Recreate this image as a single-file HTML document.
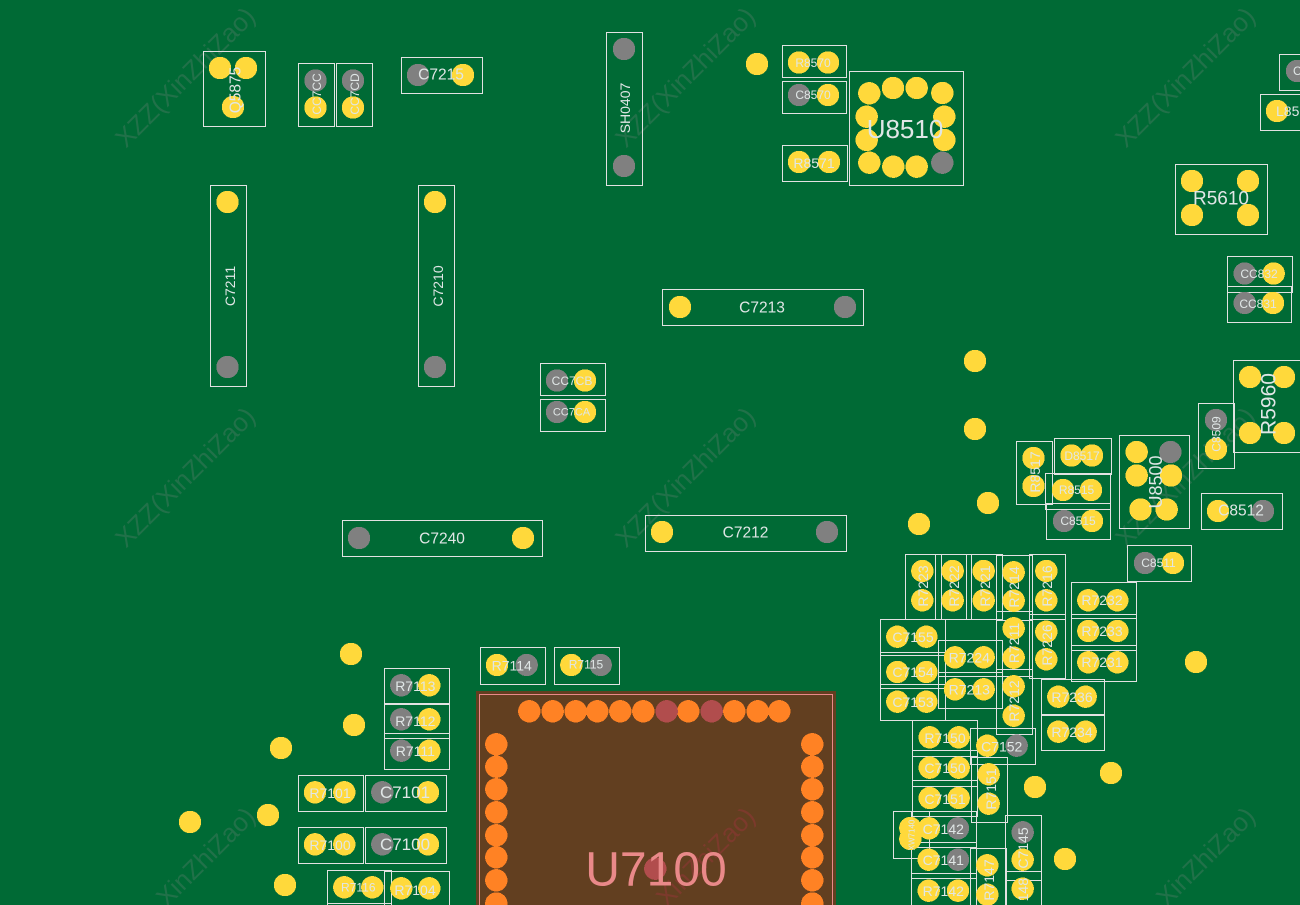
<!DOCTYPE html>
<html><head><meta charset="utf-8"><title>U7100 board view</title>
<style>
html,body{margin:0;padding:0;background:#006a35;width:1300px;height:905px;overflow:hidden}
svg{display:block}
.b{fill:none;stroke:#e2e2e2;stroke-width:1;shape-rendering:crispEdges}
circle,path{shape-rendering:crispEdges}
.y{fill:#ffd93b}.g{fill:#808080}.o{fill:#ff8224}.d{fill:#b14d4d}
text{font-family:"Liberation Sans",sans-serif;fill:#e0e6e6;text-anchor:middle;dominant-baseline:central}
.w{font-size:26px;fill:#8c8c8c;fill-opacity:.24}
.wb{font-size:26px;fill:#7c3a2c}
.s8{font-size:8px}.s11{font-size:11px}.s12{font-size:12px}.s13{font-size:14px}.s14{font-size:14px}.s15{font-size:15.5px}.s17{font-size:17px}.s18{font-size:18px}.s19{font-size:19px}.s21{font-size:21px}.s26{font-size:26px}
.u{font-size:48px;fill:#e98989}
</style></head><body>
<svg width="1300" height="905" viewBox="0 0 1300 905" xmlns="http://www.w3.org/2000/svg">
<rect width="1300" height="905" fill="#006a35"/>
<rect x="476" y="691" width="360" height="214" fill="#623f20"/>
<path class="b" d="M479.5 905V694.5H832.5V905" stroke="#e98989" style="stroke:#e98989"/>

<!-- watermarks -->
<text class="w" transform="translate(185 77) rotate(-45)">XZZ(XinZhiZao)</text>
<text class="w" transform="translate(685 77) rotate(-45)">XZZ(XinZhiZao)</text>
<text class="w" transform="translate(1185 77) rotate(-45)">XZZ(XinZhiZao)</text>
<text class="w" transform="translate(185 477) rotate(-45)">XZZ(XinZhiZao)</text>
<text class="w" transform="translate(685 477) rotate(-45)">XZZ(XinZhiZao)</text>
<text class="w" transform="translate(1185 477) rotate(-45)">XZZ(XinZhiZao)</text>
<text class="w" style="text-anchor:end" transform="translate(250.4 811.6) rotate(-45)">XinZhiZao)</text>
<text class="wb" style="text-anchor:end" transform="translate(750.4 811.6) rotate(-45)">XinZhiZao)</text>
<text class="w" style="text-anchor:end" transform="translate(1250.4 811.6) rotate(-45)">XinZhiZao)</text>

<!-- stray dots -->
<g class="y">
<circle cx="757" cy="64" r="11.2"/><circle cx="975" cy="361" r="11.2"/><circle cx="975" cy="429" r="11.2"/><circle cx="988" cy="503" r="11.2"/><circle cx="919" cy="524" r="11.2"/><circle cx="1196" cy="662" r="11.2"/><circle cx="1111" cy="773" r="11.2"/><circle cx="1035" cy="787" r="11.2"/><circle cx="1065" cy="859" r="11.2"/><circle cx="351" cy="654" r="11.2"/><circle cx="354" cy="725" r="11.2"/><circle cx="281" cy="748" r="11.2"/><circle cx="268" cy="815" r="11.2"/><circle cx="190" cy="822" r="11.2"/><circle cx="285" cy="885" r="11.2"/>
</g>

<!-- boxes -->
<rect class="b" x="203.5" y="51.5" width="62" height="75"/>
<rect class="b" x="298.5" y="63.5" width="36" height="63"/>
<rect class="b" x="336.5" y="63.5" width="36" height="63"/>
<rect class="b" x="401.5" y="57.5" width="81" height="36"/>
<rect class="b" x="606.5" y="32.5" width="36" height="153"/>
<rect class="b" x="210.5" y="185.5" width="36" height="201"/>
<rect class="b" x="418.5" y="185.5" width="36" height="201"/>
<rect class="b" x="662.5" y="289.5" width="201" height="36"/>
<rect class="b" x="645.5" y="515.5" width="201" height="36"/>
<rect class="b" x="342.5" y="520.5" width="200" height="36"/>
<rect class="b" x="540.5" y="363.5" width="65" height="32"/>
<rect class="b" x="540.5" y="399.5" width="65" height="32"/>
<rect class="b" x="782.5" y="45.5" width="64" height="32"/>
<rect class="b" x="782.5" y="81.5" width="64" height="32"/>
<rect class="b" x="782.5" y="145.5" width="65" height="36"/>
<rect class="b" x="849.5" y="71.5" width="114" height="114"/>
<path class="b" d="M1300 54.5H1279.5V90.5H1300"/>
<path class="b" d="M1300 94.5H1260.5V130.5H1300"/>
<rect class="b" x="1175.5" y="164.5" width="92" height="70"/>
<rect class="b" x="1227.5" y="256.5" width="65" height="36"/>
<rect class="b" x="1227.5" y="286.5" width="64" height="36"/>
<path class="b" d="M1300 360.5H1233.5V452.5H1300"/>
<rect class="b" x="1198.5" y="403.5" width="36" height="65"/>
<rect class="b" x="1119.5" y="435.5" width="70" height="93"/>
<rect class="b" x="1016.5" y="441.5" width="36" height="63"/>
<rect class="b" x="1054.5" y="438.5" width="57" height="36"/>
<rect class="b" x="1045.5" y="473.5" width="65" height="36"/>
<rect class="b" x="1046.5" y="503.5" width="64" height="36"/>
<rect class="b" x="1127.5" y="545.5" width="64" height="36"/>
<rect class="b" x="1201.5" y="493.5" width="81" height="36"/>

<rect class="b" x="905.5" y="554.5" width="36" height="65"/>
<rect class="b" x="935.5" y="554.5" width="36" height="65"/>
<rect class="b" x="966.5" y="554.5" width="36" height="65"/>
<rect class="b" x="996.5" y="555.5" width="36" height="65"/>
<rect class="b" x="996.5" y="611.5" width="36" height="65"/>
<rect class="b" x="996.5" y="669.5" width="36" height="65"/>
<rect class="b" x="1029.5" y="554.5" width="36" height="65"/>
<rect class="b" x="1029.5" y="614.5" width="36" height="64"/>
<rect class="b" x="880.5" y="619.5" width="65" height="36"/>
<rect class="b" x="880.5" y="652.5" width="65" height="36"/>
<rect class="b" x="880.5" y="684.5" width="65" height="36"/>
<rect class="b" x="938.5" y="640.5" width="64" height="36"/>
<rect class="b" x="938.5" y="672.5" width="64" height="36"/>
<rect class="b" x="1071.5" y="582.5" width="65" height="36"/>
<rect class="b" x="1071.5" y="614.5" width="65" height="36"/>
<rect class="b" x="1071.5" y="645.5" width="65" height="36"/>
<rect class="b" x="1041.5" y="679.5" width="63" height="35"/>
<rect class="b" x="1041.5" y="715.5" width="63" height="35"/>

<rect class="b" x="912.5" y="720.5" width="65" height="36"/>
<rect class="b" x="912.5" y="750.5" width="65" height="36"/>
<rect class="b" x="912.5" y="780.5" width="65" height="36"/>
<rect class="b" x="970.5" y="728.5" width="65" height="36"/>
<rect class="b" x="971.5" y="757.5" width="36" height="65"/>
<rect class="b" x="893.5" y="811.5" width="36" height="47"/>
<rect class="b" x="911.5" y="811.5" width="65" height="36"/>
<rect class="b" x="911.5" y="842.5" width="65" height="36"/>
<path class="b" d="M911.5 905V873.5H976.5V905"/>
<path class="b" d="M970.5 905V848.5H1006.5V905"/>
<rect class="b" x="1005.5" y="815.5" width="36" height="65"/>
<path class="b" d="M1005.5 905V871.5H1041.5V905"/>

<rect class="b" x="480.5" y="647.5" width="65" height="37"/>
<rect class="b" x="554.5" y="647.5" width="65" height="37"/>
<rect class="b" x="384.5" y="668.5" width="65" height="35"/>
<rect class="b" x="384.5" y="704.5" width="65" height="34"/>
<rect class="b" x="384.5" y="733.5" width="65" height="36"/>
<rect class="b" x="298.5" y="775.5" width="65" height="36"/>
<rect class="b" x="365.5" y="775.5" width="81" height="36"/>
<rect class="b" x="298.5" y="827.5" width="65" height="36"/>
<rect class="b" x="365.5" y="827.5" width="81" height="36"/>
<path class="b" d="M327.5 905V870.5H391.5V905M327.5 903.5H391.5"/>
<path class="b" d="M384.5 905V871.5H449.5V905"/>

<!-- yellow pads -->
<g class="y">
<circle cx="220" cy="68" r="11.2"/><circle cx="246" cy="68" r="11.2"/><circle cx="233" cy="107" r="11.2"/>
<circle cx="315.5" cy="107.5" r="11.2"/><circle cx="353" cy="107.5" r="11.2"/><circle cx="463" cy="75" r="11.2"/>
<circle cx="227.5" cy="202" r="11.2"/><circle cx="435" cy="202" r="11.2"/><circle cx="680" cy="307" r="11.2"/><circle cx="662" cy="532" r="11.2"/><circle cx="523" cy="538" r="11.2"/>
<circle cx="585" cy="380.5" r="11.2"/><circle cx="585" cy="412" r="11.2"/>
<circle cx="799" cy="62.5" r="11.2"/><circle cx="828" cy="62.5" r="11.2"/><circle cx="828" cy="95" r="11.2"/><circle cx="799" cy="162" r="11.2"/><circle cx="829" cy="162" r="11.2"/>
<circle cx="869.3" cy="93.3" r="11.2"/><circle cx="893" cy="88" r="11.2"/><circle cx="916.7" cy="88" r="11.2"/><circle cx="942.3" cy="93" r="11.2"/><circle cx="866.7" cy="116.7" r="11.2"/><circle cx="866.7" cy="140" r="11.2"/><circle cx="944.3" cy="116.7" r="11.2"/><circle cx="944.3" cy="140" r="11.2"/><circle cx="869.3" cy="162.7" r="11.2"/><circle cx="893.3" cy="166.7" r="11.2"/><circle cx="916.7" cy="166.7" r="11.2"/>
<circle cx="1277" cy="111" r="11.2"/>
<circle cx="1192" cy="181" r="11.2"/><circle cx="1248" cy="181" r="11.2"/><circle cx="1192" cy="215" r="11.2"/><circle cx="1248" cy="215" r="11.2"/>
<circle cx="1273.7" cy="273.5" r="11.2"/><circle cx="1273" cy="303" r="11.2"/>
<circle cx="1250" cy="377" r="11.2"/><circle cx="1284" cy="377" r="11.2"/><circle cx="1250" cy="433" r="11.2"/><circle cx="1284" cy="433" r="11.2"/>
<circle cx="1216" cy="449" r="11.2"/>
<circle cx="1136.7" cy="452" r="11.2"/><circle cx="1136.7" cy="475.5" r="11.2"/><circle cx="1171" cy="475.5" r="11.2"/><circle cx="1140.5" cy="509.5" r="11.2"/><circle cx="1166.7" cy="509.5" r="11.2"/>
<circle cx="1033.5" cy="458" r="11.2"/><circle cx="1033.5" cy="486" r="11.2"/>
<circle cx="1071.5" cy="455.5" r="11.2"/><circle cx="1092" cy="455.5" r="11.2"/>
<circle cx="1063" cy="490" r="11.2"/><circle cx="1091" cy="490" r="11.2"/><circle cx="1092" cy="521" r="11.2"/>
<circle cx="1173" cy="563" r="11.2"/><circle cx="1218" cy="511" r="11.2"/>
<circle cx="922.3" cy="571" r="11.2"/><circle cx="922.3" cy="600.3" r="11.2"/><circle cx="952.7" cy="571" r="11.2"/><circle cx="952.7" cy="600.3" r="11.2"/><circle cx="983.7" cy="571" r="11.2"/><circle cx="983.7" cy="600.3" r="11.2"/>
<circle cx="1013.7" cy="572.3" r="11.2"/><circle cx="1013.7" cy="600.7" r="11.2"/><circle cx="1046.3" cy="571" r="11.2"/><circle cx="1046.3" cy="600.3" r="11.2"/>
<circle cx="1013.7" cy="628.3" r="11.2"/><circle cx="1013.7" cy="657.7" r="11.2"/><circle cx="1046.3" cy="631.7" r="11.2"/><circle cx="1046.3" cy="659.3" r="11.2"/><circle cx="1013.7" cy="686.3" r="11.2"/><circle cx="1013.7" cy="715.7" r="11.2"/>
<circle cx="897.3" cy="636.7" r="11.2"/><circle cx="926.3" cy="636.7" r="11.2"/><circle cx="897.3" cy="672" r="11.2"/><circle cx="926.3" cy="672" r="11.2"/><circle cx="897.3" cy="701.7" r="11.2"/><circle cx="926.3" cy="701.7" r="11.2"/>
<circle cx="955" cy="657.3" r="11.2"/><circle cx="983.7" cy="657.3" r="11.2"/><circle cx="955" cy="689.3" r="11.2"/><circle cx="983.7" cy="689.3" r="11.2"/>
<circle cx="1088.3" cy="600.3" r="11.2"/><circle cx="1117.3" cy="600.3" r="11.2"/><circle cx="1088.3" cy="631" r="11.2"/><circle cx="1117.3" cy="631" r="11.2"/><circle cx="1088.3" cy="662.3" r="11.2"/><circle cx="1117.3" cy="662.3" r="11.2"/>
<circle cx="1058.3" cy="696.7" r="11.2"/><circle cx="1085.7" cy="696.7" r="11.2"/><circle cx="1058.3" cy="731.7" r="11.2"/><circle cx="1085.7" cy="731.7" r="11.2"/>
<circle cx="929.7" cy="737.3" r="11.2"/><circle cx="958.7" cy="737.3" r="11.2"/><circle cx="929.7" cy="767.7" r="11.2"/><circle cx="958.7" cy="767.7" r="11.2"/><circle cx="929.7" cy="798" r="11.2"/><circle cx="958.7" cy="798" r="11.2"/>
<circle cx="987.3" cy="745.7" r="11.2"/><circle cx="988.7" cy="774.3" r="11.2"/><circle cx="988.7" cy="803.7" r="11.2"/>
<circle cx="910.3" cy="828" r="11.2"/><circle cx="910.3" cy="839" r="11.2"/><circle cx="929" cy="828.3" r="11.2"/><circle cx="928.7" cy="859.7" r="11.2"/><circle cx="928.7" cy="890.7" r="11.2"/><circle cx="958" cy="890.7" r="11.2"/>
<circle cx="987.3" cy="865.3" r="11.2"/><path d="M982.9 905A11.2 11.2 0 1 1 991.7 905Z"/><circle cx="1022.7" cy="859.7" r="11.2"/><circle cx="1022.7" cy="888.7" r="11.2"/>
<circle cx="497" cy="665" r="11.2"/><circle cx="571.3" cy="665" r="11.2"/><circle cx="429.3" cy="685.3" r="11.2"/><circle cx="429.3" cy="719.3" r="11.2"/><circle cx="429.3" cy="750.7" r="11.2"/>
<circle cx="315" cy="792.3" r="11.2"/><circle cx="344.3" cy="792.3" r="11.2"/><circle cx="428" cy="792.3" r="11.2"/><circle cx="315" cy="844.3" r="11.2"/><circle cx="344.3" cy="844.3" r="11.2"/><circle cx="428" cy="844.3" r="11.2"/>
<circle cx="344.3" cy="887.3" r="11.2"/><circle cx="372.3" cy="887.3" r="11.2"/><circle cx="401.3" cy="888.3" r="11.2"/><circle cx="429.3" cy="888.3" r="11.2"/>
</g>

<!-- gray pads -->
<g class="g">
<circle cx="315.5" cy="80.5" r="11.2"/><circle cx="353" cy="80.5" r="11.2"/><circle cx="418" cy="75" r="11.2"/>
<circle cx="624" cy="49" r="11.2"/><circle cx="624" cy="166" r="11.2"/><circle cx="227.5" cy="367" r="11.2"/><circle cx="435" cy="367" r="11.2"/><circle cx="845" cy="307" r="11.2"/><circle cx="827" cy="532" r="11.2"/><circle cx="359" cy="538" r="11.2"/>
<circle cx="557" cy="380.5" r="11.2"/><circle cx="557" cy="412" r="11.2"/><circle cx="799" cy="95" r="11.2"/><circle cx="942.3" cy="162.7" r="11.2"/>
<path d="M1300 60.2A11.2 11.2 0 1 0 1300 81.8Z"/><circle cx="1244.7" cy="273.5" r="11.2"/><circle cx="1244.7" cy="303" r="11.2"/>
<circle cx="1216" cy="420" r="11.2"/><circle cx="1170.3" cy="452" r="11.2"/><circle cx="1064" cy="521" r="11.2"/><circle cx="1145" cy="563" r="11.2"/><circle cx="1263" cy="511" r="11.2"/>
<circle cx="1016.7" cy="745.7" r="11.2"/><circle cx="958" cy="828.3" r="11.2"/><circle cx="958" cy="859.7" r="11.2"/><circle cx="1022.7" cy="832.3" r="11.2"/>
<circle cx="526.7" cy="665" r="11.2"/><circle cx="600.7" cy="665" r="11.2"/><circle cx="401.3" cy="685.3" r="11.2"/><circle cx="401.3" cy="719.3" r="11.2"/><circle cx="401.3" cy="750.7" r="11.2"/><circle cx="382.3" cy="792.3" r="11.2"/><circle cx="382.3" cy="844.3" r="11.2"/>
</g>

<!-- U7100 pads -->
<g class="o">
<circle cx="529.3" cy="711.3" r="11.2"/><circle cx="552.7" cy="711.3" r="11.2"/><circle cx="575.7" cy="711.3" r="11.2"/><circle cx="597.3" cy="711.3" r="11.2"/><circle cx="620.3" cy="711.3" r="11.2"/><circle cx="643.3" cy="711.3" r="11.2"/><circle cx="688.3" cy="711.3" r="11.2"/><circle cx="734.3" cy="711.3" r="11.2"/><circle cx="757.7" cy="711.3" r="11.2"/><circle cx="779.3" cy="711.3" r="11.2"/>
<circle cx="496.3" cy="744.3" r="11.2"/><circle cx="496.3" cy="766.7" r="11.2"/><circle cx="496.3" cy="789.3" r="11.2"/><circle cx="496.3" cy="812.3" r="11.2"/><circle cx="496.3" cy="835.3" r="11.2"/><circle cx="496.3" cy="857.3" r="11.2"/><circle cx="496.3" cy="880.3" r="11.2"/><path d="M485.2 905A11.2 11.2 0 1 1 507.4 905Z"/>
<circle cx="812.3" cy="744.3" r="11.2"/><circle cx="812.3" cy="766.7" r="11.2"/><circle cx="812.3" cy="789.3" r="11.2"/><circle cx="812.3" cy="812.3" r="11.2"/><circle cx="812.3" cy="835.3" r="11.2"/><circle cx="812.3" cy="857.3" r="11.2"/><circle cx="812.3" cy="880.3" r="11.2"/><path d="M801.2 905A11.2 11.2 0 1 1 823.4 905Z"/>
</g>
<g class="d"><circle cx="666.7" cy="711.3" r="11.2"/><circle cx="711.7" cy="711.3" r="11.2"/><circle cx="655.3" cy="868.7" r="11.2"/></g>

<!-- labels -->
<text class="s15" transform="translate(236 90) rotate(-90)">Q5875</text>
<text class="s12" transform="translate(317 94) rotate(-90)">CC7CC</text>
<text class="s12" transform="translate(355 94) rotate(-90)">CC7CD</text>
<text class="s15" x="441" y="75">C7215</text>
<text class="s14" transform="translate(625 108) rotate(-90)">SH0407</text>
<text class="s14" transform="translate(230 286) rotate(-90)">C7211</text>
<text class="s14" transform="translate(438 286) rotate(-90)">C7210</text>
<text class="s15" x="762" y="308">C7213</text>
<text class="s15" x="745.5" y="533">C7212</text>
<text class="s15" x="442" y="539">C7240</text>
<text class="s12" x="572" y="381">CC7CB</text>
<text class="s11" x="571.5" y="412.5">CC7CA</text>
<text class="s12" x="813" y="63">R8570</text>
<text class="s12" x="813" y="95">C8570</text>
<text class="s13" x="814" y="163">R8571</text>
<text class="s26" x="905" y="129">U8510</text>
<text class="s12" style="text-anchor:start" x="1293" y="71">C</text>
<text class="s14" style="text-anchor:start" x="1276" y="111">L85</text>
<text class="s19" x="1221" y="199">R5610</text>
<text class="s12" x="1259" y="274">CC832</text>
<text class="s12" x="1258" y="304">CC831</text>
<text class="s21" transform="translate(1269 404) rotate(-90)">R5960</text>
<text class="s12" transform="translate(1216.5 434) rotate(-90)">C8509</text>
<text class="s18" transform="translate(1156 482) rotate(-90)">U8500</text>
<text class="s13" transform="translate(1035 472) rotate(-90)">R8517</text>
<text class="s12" x="1082" y="456">D8517</text>
<text class="s12" x="1076.5" y="490">R8515</text>
<text class="s12" x="1078" y="521">C8515</text>
<text class="s12" x="1158.5" y="563">C8511</text>
<text class="s15" x="1241" y="511">C8512</text>

<text class="s13" transform="translate(923 586) rotate(-90)">R7223</text>
<text class="s13" transform="translate(954 586) rotate(-90)">R7222</text>
<text class="s13" transform="translate(985 586) rotate(-90)">R7221</text>
<text class="s13" transform="translate(1014 587) rotate(-90)">R7214</text>
<text class="s13" transform="translate(1047 586) rotate(-90)">R7216</text>
<text class="s13" transform="translate(1014 643) rotate(-90)">R7211</text>
<text class="s13" transform="translate(1047 645) rotate(-90)">R7226</text>
<text class="s13" transform="translate(1014 701) rotate(-90)">R7212</text>
<text class="s13" x="913" y="637">C7155</text>
<text class="s13" x="913" y="672">C7154</text>
<text class="s13" x="913" y="702">C7153</text>
<text class="s13" x="969.3" y="657.7">R7224</text>
<text class="s13" x="969.3" y="689.5">R7213</text>
<text class="s13" x="1102" y="600">R7232</text>
<text class="s13" x="1102" y="631">R7233</text>
<text class="s13" x="1102" y="662">R7231</text>
<text class="s13" x="1072" y="697">R7236</text>
<text class="s13" x="1072" y="732">R7234</text>
<text class="s13" x="945" y="738">R7150</text>
<text class="s13" x="945" y="768">C7150</text>
<text class="s13" x="945" y="799">C7151</text>
<text class="s13" x="1001.7" y="746.5">C7152</text>
<text class="s13" transform="translate(991 789) rotate(-90)">R7151</text>
<text class="s8" transform="translate(912 835) rotate(-90)">XW7140</text>
<text class="s13" x="943.3" y="829">C7142</text>
<text class="s13" x="943.3" y="860">C7141</text>
<text class="s13" x="943.3" y="891">R7142</text>
<text class="s13" transform="translate(989 880) rotate(-90)">R7147</text>
<text class="s13" transform="translate(1023 848) rotate(-90)">C7145</text>
<text class="s13" style="text-anchor:end" transform="translate(1023 878) rotate(-90)">148</text>
<text class="s13" x="511.7" y="665.7">R7114</text>
<text class="s12" x="586" y="664.5">R7115</text>
<text class="s13" x="415.3" y="686">R7113</text>
<text class="s13" x="415.3" y="721">R7112</text>
<text class="s13" x="415.3" y="751">R7111</text>
<text class="s13" x="330" y="793">R7101</text>
<text class="s17" x="405" y="792.5">C7101</text>
<text class="s13" x="330" y="845">R7100</text>
<text class="s17" x="405" y="844.5">C7100</text>
<text class="s12" x="358.3" y="887.3">R7116</text>
<text class="s13" x="415" y="890">R7104</text>
<text class="u" x="656" y="870">U7100</text>
</svg>
</body></html>
